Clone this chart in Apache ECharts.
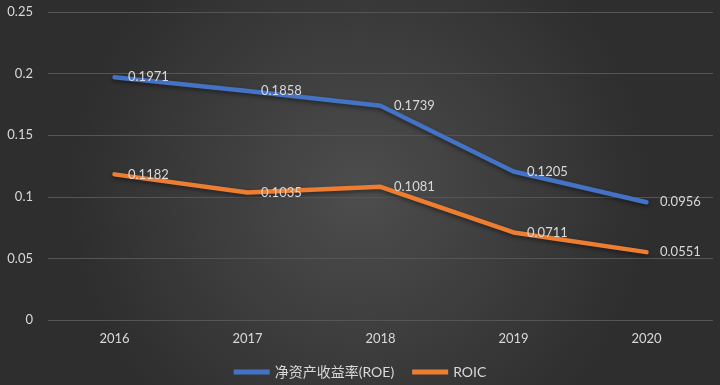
<!DOCTYPE html>
<html><head><meta charset="utf-8">
<script src="https://cdn.jsdelivr.net/npm/echarts@6/dist/echarts.min.js"></script>
<style>html,body{margin:0;padding:0;}#c{width:720px;height:385px;}</style>
</head><body><div id="c"></div>
<script>
const categories = ['2016','2017','2018','2019','2020'];
const roe = [0.1971, 0.1858, 0.1739, 0.1205, 0.0956];
const roic = [0.1182, 0.1035, 0.1081, 0.0711, 0.0551];
const seriesNames = ['净资产收益率(ROE)', 'ROIC'];
const FONT = 'Lato, "Noto Sans CJK SC", sans-serif';
const chart = echarts.init(document.getElementById('c'));
function mk(name, data, color){
  return {
    name, type:'line', data, symbol:'circle', symbolSize:1, showSymbol:true, smooth:false,
    lineStyle:{width:4.5, color, cap:'round', join:'round', shadowColor:'rgba(0,0,0,0.45)', shadowBlur:4, shadowOffsetY:2},
    itemStyle:{color},
    labelLayout:{hideOverlap:false},
    label:{show:true, position:'right', distance:13, color:'#d9d9d9', fontSize:13, fontFamily:FONT, formatter:p=>p.value.toFixed(4)}
  };
}
chart.setOption({
  backgroundColor:{type:'radial', x:0.5, y:0.5, r:0.75, colorStops:[{offset:0,color:'#4d4d4d'},{offset:1,color:'#2e2e2e'}]},
  animation:false,
  grid:{left:48, right:7, top:12, bottom:65},
  legend:{bottom:1, left:'center', itemWidth:36, itemHeight:5, itemGap:18, icon:'rect',
    textStyle:{color:'#d9d9d9', fontSize:14, fontFamily:FONT}, data:seriesNames},
  xAxis:{type:'category', data:categories, boundaryGap:true,
    axisLine:{show:false}, axisTick:{show:false},
    axisLabel:{color:'#d9d9d9', fontSize:13, fontFamily:FONT, margin:12}},
  yAxis:{type:'value', min:0, max:0.25, interval:0.05,
    axisLabel:{color:'#d9d9d9', fontSize:13, fontFamily:FONT, margin:15, formatter:v=>String(+v.toFixed(2))},
    splitLine:{lineStyle:{color:'#555555', width:1}}},
  series:[mk(seriesNames[0], roe, '#4472C4'), mk(seriesNames[1], roic, '#ED7D31')]
});
</script></body></html>
